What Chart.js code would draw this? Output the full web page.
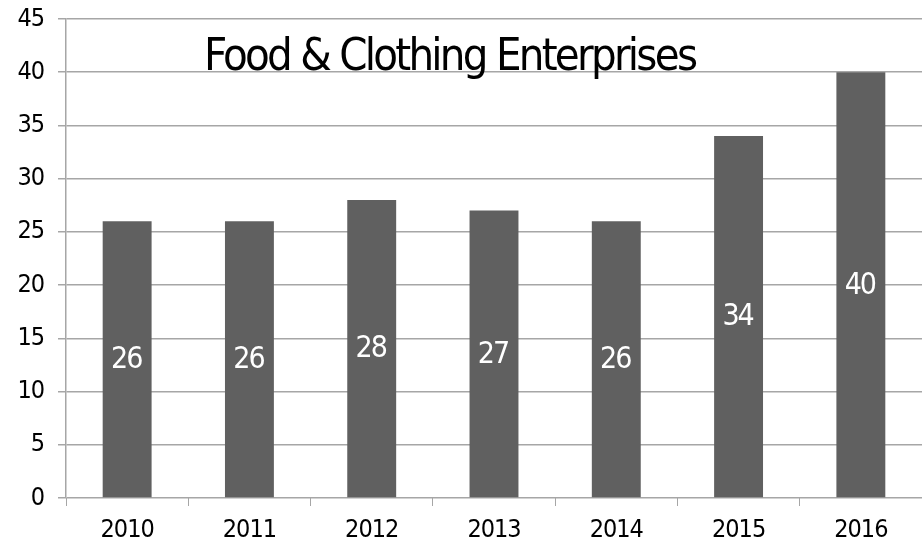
<!DOCTYPE html>
<html>
<head>
<meta charset="utf-8">
<script src="https://cdn.jsdelivr.net/npm/chart.js@4/dist/chart.umd.min.js"></script>
<style>
  html, body { margin: 0; padding: 0; background: #fff; }
  #wrap { width: 922px; height: 546px; }
</style>
</head>
<body>
<div id="wrap"><canvas id="myChart"></canvas></div>
<script>
const years = ["2010", "2011", "2012", "2013", "2014", "2015", "2016"];
const enterprises = [26, 26, 28, 27, 26, 34, 40];
const chartTitle = "Food & Clothing Enterprises";
const yMin = 0, yMax = 45, yStep = 5;

const FONT = "'DejaVu Sans Condensed', 'DejaVu Sans', sans-serif";
const GRID = "#a6a6a6";

// tighter letter spacing for every axis label
const tightText = {
  id: "tightText",
  beforeDraw(chart) {
    chart.ctx.letterSpacing = "-1px";
  }
};

// white value labels in the middle of each bar
const barLabels = {
  id: "barLabels",
  afterDatasetsDraw(chart) {
    const ctx = chart.ctx;
    const meta = chart.getDatasetMeta(0);
    ctx.save();
    ctx.fillStyle = "#ffffff";
    ctx.font = "30px " + FONT;
    ctx.letterSpacing = "-2px";
    ctx.textAlign = "center";
    ctx.textBaseline = "middle";
    meta.data.forEach((bar, i) => {
      ctx.fillText(String(enterprises[i]), bar.x - 1, (bar.y + bar.base) / 2 + 1);
    });
    ctx.restore();
  }
};

// title sits inside the plot area, squeezed tight
const innerTitle = {
  id: "innerTitle",
  afterDraw(chart) {
    const ctx = chart.ctx;
    ctx.save();
    ctx.fillStyle = "#000";
    ctx.font = "45px " + FONT;
    ctx.textAlign = "left";
    ctx.textBaseline = "alphabetic";
    ctx.letterSpacing = "0px";
    const w = ctx.measureText(chartTitle).width;
    const target = 494;
    const sp = (target - w) / (chartTitle.length - 1);
    ctx.letterSpacing = sp + "px";
    ctx.fillText(chartTitle, 204, 70);
    ctx.restore();
  }
};

document.addEventListener("DOMContentLoaded", () => {
  const ctx = document.getElementById("myChart");
  new Chart(ctx, {
    type: "bar",
    data: {
      labels: years,
      datasets: [
        {
          label: chartTitle,
          data: enterprises,
          backgroundColor: "#606060",
          borderWidth: 0,
          barPercentage: 0.4,
          categoryPercentage: 1,
        },
      ],
    },
    options: {
      responsive: true,
      maintainAspectRatio: false,
      animation: false,
      layout: { padding: { top: 19, right: 0, left: 0, bottom: 0 } },
      plugins: {
        legend: { display: false },
        title: { display: false },
        tooltip: { enabled: false },
      },
      scales: {
        x: {
          grid: {
            offset: true,
            drawOnChartArea: false,
            drawTicks: true,
            tickLength: 8,
            color: GRID,
          },
          border: { display: false },
          ticks: {
            color: "#000",
            font: { family: FONT, size: 25 },
            padding: 9,
            maxRotation: 0,
          },
          afterFit(scale) {
            scale.height = 48;
            scale.paddingLeft = 0;
            scale.paddingRight = 0;
          },
        },
        y: {
          min: yMin,
          max: yMax,
          grid: {
            color: GRID,
            lineWidth: 1.5,
            tickLength: 8,
          },
          border: { display: true, color: GRID, width: 1.5 },
          ticks: {
            stepSize: yStep,
            color: "#000",
            font: { family: FONT, size: 25 },
            padding: 14,
          },
          afterFit(scale) {
            scale.width = 66;
            scale.paddingTop = 0;
            scale.paddingBottom = 0;
          },
        },
      },
    },
    plugins: [tightText, barLabels, innerTitle],
  });
});
</script>
</body>
</html>
